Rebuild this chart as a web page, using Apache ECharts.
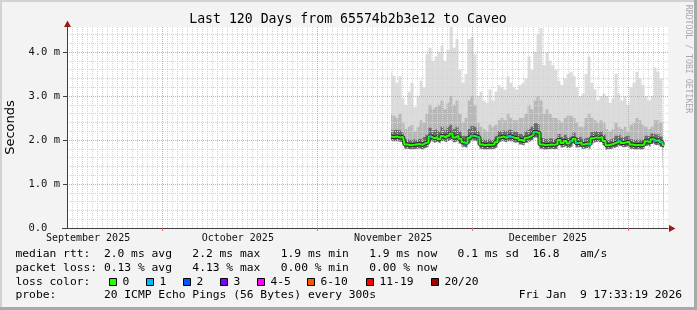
<!DOCTYPE html>
<html><head><meta charset="utf-8">
<script src="https://cdn.jsdelivr.net/npm/echarts@6/dist/echarts.min.js"></script>
<style>html,body{margin:0;padding:0;background:#f3f3f3}#c{width:697px;height:310px}</style>
</head><body><div id="c"></div>
<script>
// ---- time sampling (days since start of the 120-day window) ----
const startDay = 64.7;
const stepDays = 0.599;

// ---- median RTT (ms) ----
const medianRtt = [2.08,2.07,2.08,2.06,2.07,1.90,1.88,1.89,1.90,1.91,1.89,1.93,1.95,2.08,2.04,2.07,2.02,2.09,2.05,2.10,
  2.15,2.06,2.10,2.03,1.95,1.92,2.05,2.10,2.08,2.06,1.90,1.88,1.90,1.89,1.90,1.95,2.06,2.08,2.05,2.09,
  2.07,2.04,2.06,2.00,1.97,2.05,2.08,2.12,2.18,2.16,1.90,1.88,1.89,1.90,1.89,1.91,2.00,1.93,1.98,1.92,
  1.97,2.03,1.93,1.95,1.90,1.92,1.90,2.04,2.06,2.05,2.07,1.98,1.88,1.90,1.92,1.95,1.98,1.93,1.95,1.96,
  1.90,1.88,1.89,1.88,1.90,1.97,1.95,2.02,1.98,2.00,1.95,1.88];
// ---- lowest ping (ms) ----
const lowPing = [1.98,1.97,1.97,1.96,1.95,1.80,1.79,1.79,1.80,1.81,1.79,1.82,1.84,1.97,1.94,1.96,1.92,1.98,1.95,1.99,
  2.03,1.95,1.99,1.92,1.85,1.82,1.94,1.99,1.97,1.95,1.80,1.78,1.79,1.79,1.80,1.84,1.96,1.97,1.95,1.98,
  1.96,1.94,1.95,1.90,1.87,1.94,1.97,2.01,2.06,2.04,1.80,1.78,1.79,1.80,1.79,1.80,1.88,1.83,1.87,1.82,
  1.86,1.92,1.83,1.85,1.80,1.82,1.80,1.94,1.96,1.95,1.96,1.88,1.78,1.80,1.82,1.85,1.87,1.83,1.85,1.86,
  1.80,1.78,1.79,1.78,1.80,1.87,1.85,1.91,1.88,1.90,1.85,1.78];
// ---- top of dense (dark) smoke core (ms) ----
const corePing = [2.22,2.22,2.24,2.22,2.20,2.02,2.00,2.02,2.00,2.03,2.02,2.07,2.12,2.28,2.22,2.25,2.20,2.30,2.22,2.30,
  2.35,2.25,2.30,2.20,2.10,2.08,2.25,2.32,2.28,2.20,2.02,2.00,2.02,2.00,2.02,2.08,2.20,2.22,2.20,2.24,
  2.22,2.18,2.20,2.14,2.10,2.20,2.25,2.30,2.38,2.35,2.05,2.02,2.03,2.04,2.02,2.04,2.14,2.07,2.12,2.06,
  2.10,2.17,2.06,2.08,2.03,2.06,2.05,2.18,2.20,2.19,2.20,2.12,2.00,2.02,2.05,2.10,2.12,2.06,2.09,2.10,
  2.02,2.00,2.02,2.00,2.03,2.10,2.08,2.15,2.12,2.14,2.08,2.00];
// ---- top of medium smoke (ms) ----
const midPing = [2.60,2.55,2.50,2.60,2.40,2.25,2.30,2.35,2.20,2.30,2.45,2.40,2.60,2.80,2.70,2.75,2.80,2.90,2.70,2.85,
  3.00,2.80,2.90,2.60,2.40,2.50,2.90,3.00,2.80,2.40,2.30,2.25,2.20,2.35,2.30,2.35,2.45,2.50,2.45,2.60,
  2.50,2.45,2.45,2.50,2.50,2.60,2.80,2.70,2.90,3.00,2.90,2.60,2.70,2.60,2.50,2.50,2.45,2.40,2.50,2.55,
  2.55,2.50,2.40,2.30,2.30,2.50,2.60,2.50,2.45,2.40,2.45,2.40,2.25,2.20,2.25,2.40,2.30,2.25,2.30,2.20,
  2.35,2.40,2.50,2.45,2.35,2.30,2.25,2.30,2.45,2.45,2.40,2.20];
// ---- highest ping (ms) ----
const maxPing = [3.60,3.45,3.30,3.45,2.95,2.80,3.10,3.30,2.75,3.00,3.35,3.20,3.95,4.10,3.80,3.90,4.00,4.15,3.80,4.05,
  4.57,4.10,4.30,3.60,3.30,3.50,4.30,4.35,3.95,3.00,3.10,2.90,2.85,3.15,2.90,3.10,3.25,3.20,3.15,3.45,
  3.30,3.20,3.15,3.25,3.30,3.40,3.90,3.60,4.00,4.40,4.55,3.70,4.00,3.80,3.70,3.60,3.35,3.25,3.40,3.50,
  3.55,3.45,3.20,3.00,3.05,3.50,3.90,3.30,3.15,2.90,3.00,3.05,3.00,2.85,2.95,3.50,3.05,2.90,3.00,2.80,
  3.20,3.30,3.55,3.40,3.25,3.00,2.90,3.00,3.65,3.55,3.40,2.80];
// ---- lost pings (out of 20) ----
const lossCount = [0,0,0,0,0,0,0,0,0,0,0,0,0,1,0,0,0,0,0,0,
  0,0,0,0,0,1,0,1,0,1,0,0,0,0,0,0,0,0,0,1,
  1,0,0,0,0,0,0,0,1,0,0,0,0,0,0,0,0,0,0,0,
  1,0,1,0,0,0,1,0,0,0,0,0,0,0,0,0,1,0,0,0,
  0,0,0,0,0,0,0,0,1,0,1,0];

// ---- axes ----
const monthLines = [19, 50, 81, 112];
const monthLabelPos = [4.2, 34.1, 65.1, 96.0];
const monthLabels = ['September 2025', 'October 2025', 'November 2025', 'December 2025'];
const yMajor = [0, 1, 2, 3, 4];

// ---- legend ----
const lossLegend = ['0', '1', '2', '3', '4-5', '6-10', '11-19', '20/20'];
const lossUpper = [0, 1, 2, 3, 5, 10, 19, 20];
const lossColors = ['#26ff00', '#00b8ff', '#0059ff', '#7e00ff', '#ff00ff', '#ff5500', '#ff0000', '#a00000'];
const rttStats = ['2.0 ms avg', '2.2 ms max', '1.9 ms min', '1.9 ms now', '0.1 ms sd'];
const lossStats = ['0.13 % avg', '4.13 % max', '0.00 % min', '0.00 % now'];

const chart = echarts.init(document.getElementById('c'), null, {renderer: 'canvas', width: 697, height: 310});
const mono = "'DejaVu Sans Mono', monospace";
const X_MAX = 120, Y_MAX = 4.57;
const X_STEP = 1, Y_STEP = 0.2;

const xs = medianRtt.map((_, i) => +(startDay + i * stepDays).toFixed(4));
const pair = a => a.map((v, i) => [xs[i], v]);
const lossColor = n => { for (let k = 0; k < lossUpper.length; k++) if (n <= lossUpper[k]) return lossColors[k]; return lossColors[lossColors.length - 1]; };

function band(name, data, color, z) {
  return {name, type: 'line', data, symbol: 'none', silent: true, z, animation: false, step: 'middle',
    lineStyle: {width: 0, color}, itemStyle: {color},
    areaStyle: {color, opacity: 1, origin: 'start'}};
}

const lossPts = [];
lossCount.forEach((n, i) => { if (n > 0) lossPts.push({value: [xs[i], medianRtt[i]], itemStyle: {color: lossColor(n)}}); });

// split-line colour cycles: minor lines grey, major (month / whole ms) lines pink-red
const MINOR = '#d4d4d4', MAJOR = '#f39a9a';
const xPeriod = monthLines[1] - monthLines[0];
const xSplitColors = Array.from({length: xPeriod}, (_, k) => k === (monthLines[0] % xPeriod) ? MAJOR : MINOR);
const yPeriod = Math.round((yMajor[1] - yMajor[0]) / Y_STEP);
const ySplitColors = Array.from({length: yPeriod}, (_, k) => k === 0 ? MAJOR : MINOR);

const option = {
  animation: false,
  backgroundColor: '#f3f3f3',
  grid: {left: 67, right: 29, top: 27, bottom: 82, show: false},
  xAxis: [{
    type: 'value', min: 0, max: X_MAX, interval: X_STEP, z: 2,
    axisLine: {show: true, onZero: false, lineStyle: {color: '#404040', width: 1}},
    axisTick: {show: false},
    axisLabel: {show: true, customValues: monthLabelPos, fontFamily: mono, fontSize: 10, color: '#111', margin: 5,
      formatter: v => { let best = 0; monthLabelPos.forEach((p, k) => { if (Math.abs(p - v) < Math.abs(monthLabelPos[best] - v)) best = k; }); return monthLabels[best]; }},
    splitLine: {show: true, showMinLine: true, showMaxLine: false, lineStyle: {color: xSplitColors, type: [1, 1], width: 1, opacity: 1}}
  }, {
    type: 'value', min: 0, max: X_MAX, position: 'bottom', z: 2,
    axisLine: {show: false}, axisLabel: {show: false}, splitLine: {show: false},
    axisTick: {show: true, customValues: monthLines, length: 3, lineStyle: {color: '#e07070'}}
  }],
  yAxis: [{
    type: 'value', min: 0, max: Y_MAX, interval: Y_STEP, z: 2,
    axisLine: {show: true, lineStyle: {color: '#404040', width: 1}},
    axisTick: {show: false},
    axisLabel: {customValues: yMajor, fontFamily: mono, fontSize: 10.5, color: '#111', margin: 7,
      formatter: v => v === 0 ? '0.0  ' : v.toFixed(1) + ' m'},
    splitLine: {show: true, showMinLine: true, showMaxLine: false, lineStyle: {color: ySplitColors, type: [1, 1], width: 1, opacity: 1}}
  }, {
    type: 'value', min: 0, max: Y_MAX, position: 'left', z: 2,
    axisLine: {show: false}, axisLabel: {show: false}, splitLine: {show: false},
    axisTick: {show: true, customValues: yMajor, length: 4, lineStyle: {color: '#404040'}}
  }],
  series: [
    band('max', pair(maxPing), '#dcdcdc', 1),
    band('mid', pair(midPing), '#b8b8b8', 1.1),
    band('core', pair(corePing), '#6c6c6c', 1.2),
    band('low', pair(lowPing), '#ffffff', 1.3),
    {name: 'median-edge', type: 'line', data: pair(medianRtt), symbol: 'none', z: 19, silent: true, step: 'middle',
      lineStyle: {color: '#2a2a2a', width: 4}},
    {name: 'median', type: 'line', data: pair(medianRtt), symbol: 'none', z: 20, silent: true, step: 'middle',
      lineStyle: {color: lossColors[0], width: 2}},
    {name: 'loss', type: 'scatter', data: lossPts, symbol: 'rect', symbolSize: [3, 2], z: 21, silent: true}
  ]
};
chart.setOption(option);

// ---- decorations: frame, plot background, texts, legend, arrows ----
const p0 = chart.convertToPixel({gridIndex: 0}, [0, Y_MAX]);
const p1 = chart.convertToPixel({gridIndex: 0}, [X_MAX, 0]);
const g = [];
g.push({type: 'rect', z: -100, silent: true, shape: {x: p0[0], y: p0[1], width: p1[0] - p0[0], height: p1[1] - p0[1]}, style: {fill: '#ffffff'}});
g.push({type: 'rect', shape: {x: 0, y: 0, width: 697, height: 2}, style: {fill: '#d2d2d2'}});
g.push({type: 'rect', shape: {x: 0, y: 0, width: 2, height: 310}, style: {fill: '#d2d2d2'}});
g.push({type: 'rect', shape: {x: 694, y: 0, width: 3, height: 310}, style: {fill: '#a9a9a9'}});
g.push({type: 'rect', shape: {x: 0, y: 307, width: 697, height: 3}, style: {fill: '#a9a9a9'}});
g.push({type: 'line', z: 30, shape: {x1: p0[0] - 5, y1: Math.round(p1[1]) + 0.5, x2: p0[0], y2: Math.round(p1[1]) + 0.5}, style: {stroke: '#404040', lineWidth: 1}});
g.push({type: 'polygon', z: 30, shape: {points: [[p0[0] + 0.5, p0[1] - 6.5], [p0[0] - 3, p0[1]], [p0[0] + 4, p0[1]]]}, style: {fill: '#9a1a1a'}});
g.push({type: 'polygon', z: 30, shape: {points: [[p1[0] + 1, p1[1] - 3], [p1[0] + 1, p1[1] + 4], [p1[0] + 7.5, p1[1] + 0.5]]}, style: {fill: '#9a1a1a'}});
g.push({type: 'text', x: 348, y: 20, style: {text: 'Last 120 Days from 65574b2b3e12 to Caveo', font: "13.2px 'DejaVu Sans Mono'", fill: '#000', textAlign: 'center', textVerticalAlign: 'middle'}});
g.push({type: 'text', x: 11, y: 127.5, rotation: Math.PI / 2, style: {text: 'Seconds', font: "13px 'DejaVu Sans'", fill: '#000', textAlign: 'center', textVerticalAlign: 'middle'}});
g.push({type: 'text', x: 688, y: 59, rotation: -Math.PI / 2, style: {text: 'RRDTOOL / TOBI OETIKER', font: "8.2px 'DejaVu Sans Mono'", fill: '#a8a8a8', textAlign: 'center', textVerticalAlign: 'middle'}});
const L1 = 'median rtt:  ' + rttStats.join('   ') + '  16.8   am/s';
const L2 = 'packet loss: ' + lossStats.join('   ');
const L4 = 'probe:       20 ICMP Echo Pings (56 Bytes) every 300s';
const lf = "11.3px 'DejaVu Sans Mono'";
[[L1, 254], [L2, 268], ['loss color:', 282], [L4, 295.5]].forEach(([t, y]) =>
  g.push({type: 'text', x: 15.5, y, style: {text: t, font: lf, fill: '#000', textAlign: 'left', textVerticalAlign: 'middle'}}));
g.push({type: 'text', x: 682, y: 295.5, style: {text: 'Fri Jan  9 17:33:19 2026', font: lf, fill: '#000', textAlign: 'right', textVerticalAlign: 'middle'}});
const boxX = [109, 146, 183, 220, 257, 307, 366, 431];
lossLegend.forEach((lab, k) => {
  g.push({type: 'rect', shape: {x: boxX[k] + 0.5, y: 278.5, width: 7, height: 7}, style: {fill: lossColors[k], stroke: '#000', lineWidth: 1}});
  g.push({type: 'text', x: boxX[k] + 13.5, y: 282, style: {text: lab, font: lf, fill: '#000', textAlign: 'left', textVerticalAlign: 'middle'}});
});
chart.setOption({graphic: {elements: g}});
</script></body></html>
